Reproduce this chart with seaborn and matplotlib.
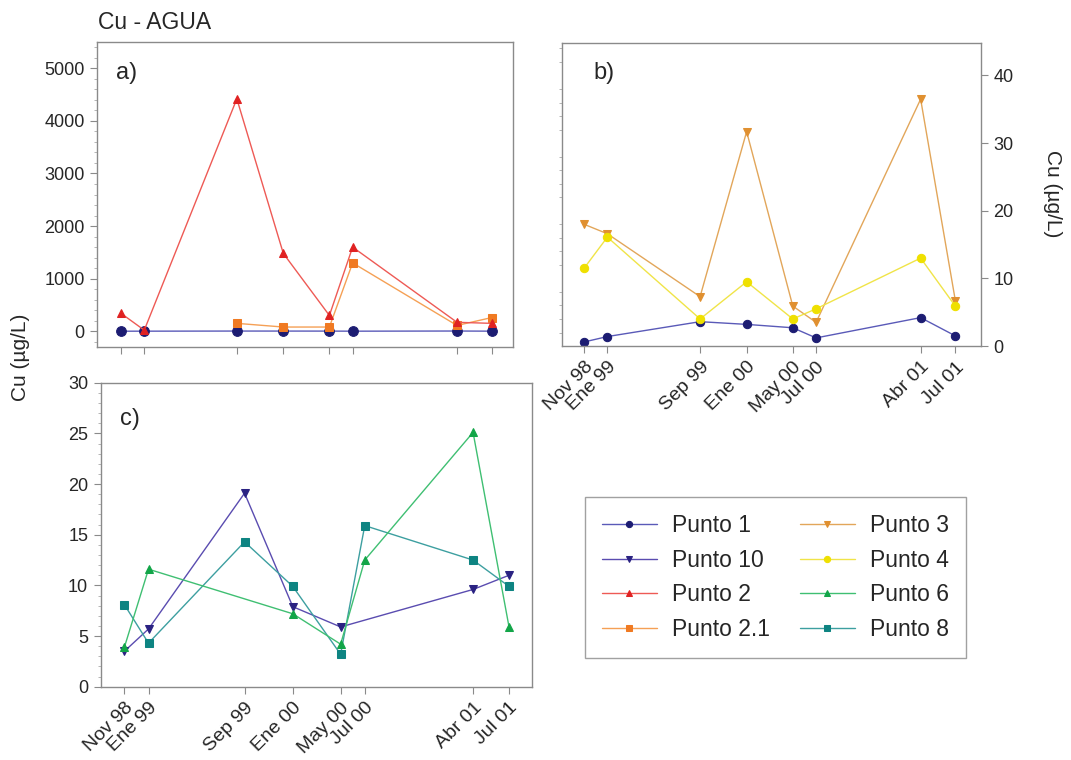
import numpy as np
import pandas as pd
import matplotlib
matplotlib.use("Agg")
import matplotlib.pyplot as plt
from matplotlib.ticker import MultipleLocator
import seaborn as sns

# %% data
fechas = ["1998-11-15", "1999-01-15", "1999-09-15", "2000-01-15",
          "2000-05-15", "2000-07-15", "2001-04-15", "2001-07-15"]
etiquetas = ["Nov 98", "Ene 99", "Sep 99", "Ene 00", "May 00", "Jul 00", "Abr 01", "Jul 01"]

punto1 = [0.6, 1.4, 3.6, 3.2, 2.7, 1.2, 4.2, 1.5]
punto2 = [340, 20, 4420, 1480, 300, 1600, 170, 150]
punto21 = [np.nan, np.nan, 150, 80, 80, 1300, 110, 260]
punto3 = [18.0, 16.6, 7.3, 31.7, 5.9, 3.5, 36.5, 6.7]
punto4 = [11.5, 16.1, 4.0, 9.5, 4.0, 5.5, 13.0, 5.9]
punto10 = [3.5, 5.7, 19.1, 7.9, 5.9, np.nan, 9.6, 11.0]
punto6 = [3.9, 11.6, np.nan, 7.2, 4.2, 12.5, 25.1, 5.9]
punto8 = [8.1, 4.3, 14.3, 9.9, 3.2, 15.9, 12.5, 9.9]

# %% style
sns.set_theme(style="white")
plt.rcParams["font.family"] = ["Liberation Sans", "DejaVu Sans"]
plt.rcParams["axes.edgecolor"] = "#8a8a8a"
plt.rcParams["axes.linewidth"] = 1.0

fecha = pd.to_datetime(fechas)

# name: (line colour, marker colour, marker)
estilos = {
    "Punto 1": ("#5a5ab8", "#1c1c72", "o"),
    "Punto 10": ("#5a4cb0", "#2a2282", "v"),
    "Punto 2": ("#ee5a55", "#e02222", "^"),
    "Punto 2.1": ("#f5a055", "#f07a22", "s"),
    "Punto 3": ("#e2a65a", "#e09030", "v"),
    "Punto 4": ("#f0e448", "#efe000", "o"),
    "Punto 6": ("#3fbf72", "#12a548", "^"),
    "Punto 8": ("#3d9fa0", "#0e8482", "s"),
}

fig = plt.figure(figsize=(10.71, 7.6), dpi=100)
ax_a = fig.add_axes([0.0906, 0.5434, 0.3884, 0.4013])
ax_b = fig.add_axes([0.5247, 0.5447, 0.3912, 0.3987])
ax_c = fig.add_axes([0.0940, 0.0964, 0.4027, 0.4000])

handles = {}


def dibujar(ax, nombre, valores, ms=6):
    lc, mc, mk = estilos[nombre]
    d = pd.DataFrame({"fecha": fecha, "cu": valores}).dropna()
    sns.lineplot(data=d, x="fecha", y="cu", ax=ax, color=lc, marker=mk,
                 markersize=ms, markerfacecolor=mc, markeredgecolor=mc,
                 linewidth=1.0, label=nombre, legend=False)
    handles[nombre] = ax.lines[-1]


# a)
dibujar(ax_a, "Punto 1", punto1, ms=7)
dibujar(ax_a, "Punto 2.1", punto21)
dibujar(ax_a, "Punto 2", punto2)
# b)
dibujar(ax_b, "Punto 1", punto1)
dibujar(ax_b, "Punto 3", punto3)
dibujar(ax_b, "Punto 4", punto4)
# c)
dibujar(ax_c, "Punto 10", punto10)
dibujar(ax_c, "Punto 8", punto8)
dibujar(ax_c, "Punto 6", punto6)

d0, d1 = fecha[0], fecha[-1]
ax_a.set_xlim(d0 - pd.Timedelta(days=63), d1 + pd.Timedelta(days=56))
ax_b.set_xlim(d0 - pd.Timedelta(days=58), d1 + pd.Timedelta(days=67))
ax_c.set_xlim(d0 - pd.Timedelta(days=60), d1 + pd.Timedelta(days=58))

ax_a.set_ylim(-300, 5500)
ax_a.yaxis.set_major_locator(MultipleLocator(1000))
ax_a.yaxis.set_minor_locator(MultipleLocator(200))
ax_b.set_ylim(0, 44.8)
ax_b.yaxis.set_major_locator(MultipleLocator(10))
ax_b.yaxis.set_minor_locator(MultipleLocator(2))
ax_c.set_ylim(0, 30)
ax_c.yaxis.set_major_locator(MultipleLocator(5))
ax_c.yaxis.set_minor_locator(MultipleLocator(1))

for ax in (ax_a, ax_b, ax_c):
    ax.set_xticks(fecha)
    ax.set_xlabel("")
    ax.set_ylabel("")
    ax.tick_params(axis="both", which="major", direction="out", length=5,
                   width=0.8, color="#8a8a8a", labelsize=13, pad=4,
                   bottom=True, left=True)
    ax.tick_params(axis="y", which="minor", direction="out", length=2.5,
                   width=0.6, color="#aaaaaa", left=True)
    for s in ax.spines.values():
        s.set_visible(True)

ax_a.set_xticklabels([])
for ax in (ax_b, ax_c):
    ax.set_xticklabels(etiquetas, rotation=45, ha="right", rotation_mode="anchor",
                       fontsize=14)

ax_b.yaxis.tick_right()
ax_b.tick_params(axis="y", which="major", right=True, left=False, length=5,
                 color="#8a8a8a", labelsize=13)
ax_b.tick_params(axis="y", which="minor", left=True, right=False)
ax_b.yaxis.set_label_position("right")

ax_a.text(0.045, 0.88, "a)", transform=ax_a.transAxes, fontsize=17)
ax_b.text(0.075, 0.88, "b)", transform=ax_b.transAxes, fontsize=17)
ax_c.text(0.045, 0.86, "c)", transform=ax_c.transAxes, fontsize=17)

fig.text(0.0915, 0.97, "Cu - AGUA", fontsize=16.5, va="center", ha="left")
fig.text(0.019, 0.53, "Cu (µg/L)", rotation=90, fontsize=15, va="center", ha="center")
fig.text(0.983, 0.745, "Cu (µg/L)", rotation=-90, fontsize=15, va="center", ha="center")

orden = ["Punto 1", "Punto 10", "Punto 2", "Punto 2.1",
         "Punto 3", "Punto 4", "Punto 6", "Punto 8"]
leg = fig.legend([handles[n] for n in orden], orden, ncol=2,
                 loc="upper left", bbox_to_anchor=(0.546, 0.346),
                 borderaxespad=0, fontsize=16.5, frameon=True, fancybox=False,
                 handlelength=2.4, handletextpad=0.65, columnspacing=1.3,
                 labelspacing=0.5, borderpad=0.75, markerscale=0.75)
leg.get_frame().set_edgecolor("#8a8a8a")
leg.get_frame().set_linewidth(1.0)

fig.savefig("out.png", dpi=100)
